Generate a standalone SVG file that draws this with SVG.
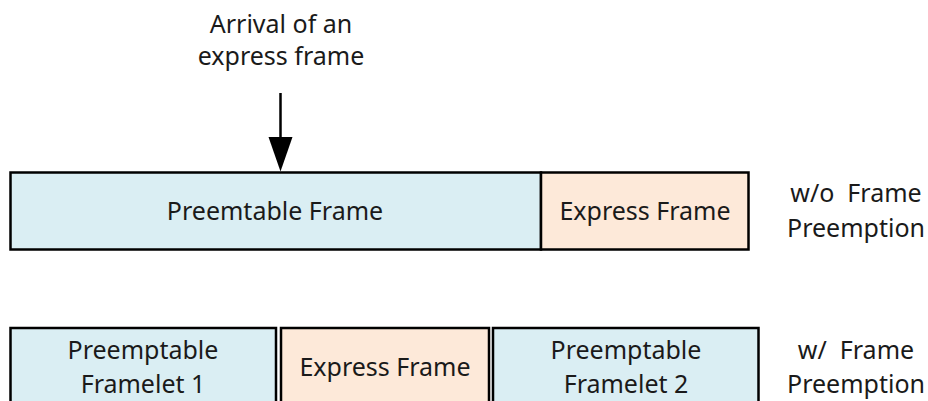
<svg xmlns="http://www.w3.org/2000/svg" width="928" height="401" viewBox="0 0 928 401">
  <style>
    text { font-family: "Noto Sans", "Open Sans", "Liberation Sans", sans-serif; font-size: 25px; fill: #1a1a1a; text-anchor: middle; white-space: pre; }
    .pre { fill: #daeef3; stroke: #000; stroke-width: 2.5; }
    .exp { fill: #fde9d9; stroke: #000; stroke-width: 2.5; }
    .conn { stroke: #000; stroke-width: 2.5; fill: none; }
  </style>

  <!-- annotation above the top timeline -->
  <g id="arrival-label">
    <text x="281" y="33">Arrival of an</text>
    <text x="281" y="65">express frame</text>
  </g>

  <!-- top timeline: without preemption -->
  <g id="preemptable-frame">
    <rect class="pre" x="10.5" y="172.5" width="530.5" height="77"/>
    <text x="275" y="220">Preemtable Frame</text>
  </g>
  <g id="express-frame-top">
    <rect class="exp" x="541" y="172.5" width="207.5" height="77"/>
    <text x="645" y="220">Express Frame</text>
  </g>
  <g id="label-without">
    <text x="856" y="202">w/o  Frame</text>
    <text x="856" y="237">Preemption</text>
  </g>

  <!-- bottom timeline: with preemption -->
  <g id="framelet-1">
    <rect class="pre" x="10.5" y="328" width="265.5" height="78"/>
    <text x="143" y="359">Preemptable</text>
    <text x="143" y="393">Framelet 1</text>
  </g>
  <g id="express-frame-bottom">
    <rect class="exp" x="281" y="328" width="208" height="78"/>
    <text x="385" y="376">Express Frame</text>
  </g>
  <g id="framelet-2">
    <rect class="pre" x="493" y="328" width="265.5" height="78"/>
    <text x="626" y="359">Preemptable</text>
    <text x="626" y="393">Framelet 2</text>
  </g>
  <g id="label-with">
    <text x="856" y="359">w/  Frame</text>
    <text x="856" y="393">Preemption</text>
  </g>

  <!-- connectors: arrival arrow pointing at the top timeline -->
  <g id="connectors">
    <line class="conn" x1="280.5" y1="93" x2="280.5" y2="140"/>
    <path d="M268.5,137 L292.5,137 L280.5,171.5 Z" fill="#000"/>
  </g>
</svg>
